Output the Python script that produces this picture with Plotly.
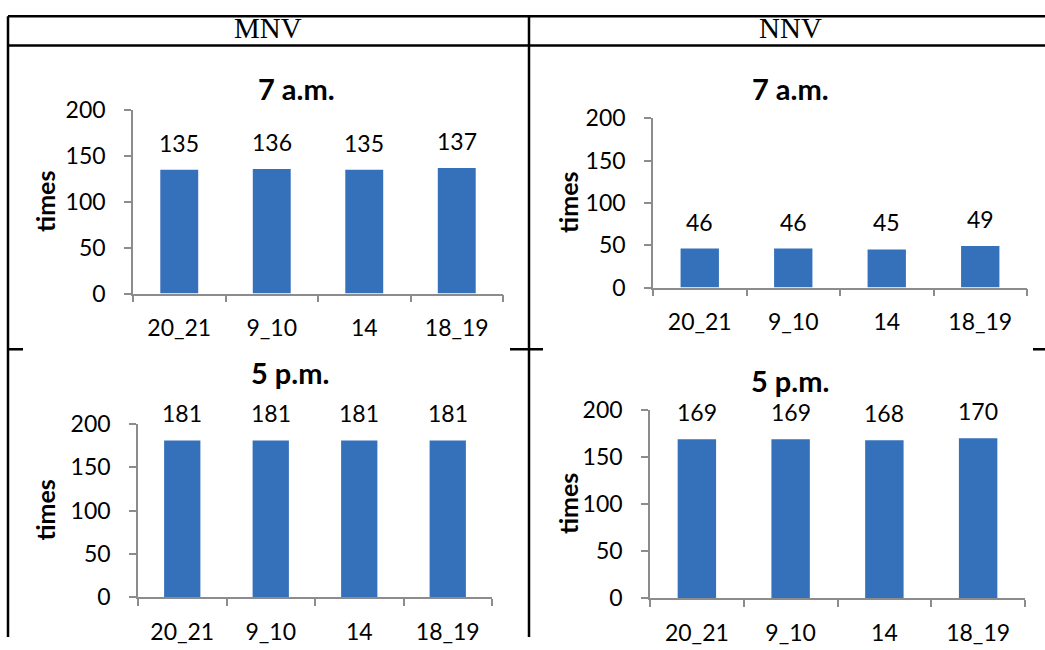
import plotly.graph_objects as go

W, H = 1045, 650

categories = ["20_21", "9_10", "14", "18_19"]
mnv_7am = [135, 136, 135, 137]
nnv_7am = [46, 46, 45, 49]
mnv_5pm = [181, 181, 181, 181]
nnv_5pm = [169, 169, 168, 170]
y_ticks = [0, 50, 100, 150, 200]
column_headers = ["MNV", "NNV"]
panel_titles = ["7 a.m.", "7 a.m.", "5 p.m.", "5 p.m."]
y_title = "times"

BAR_COLOR = "#3570BA"
AXIS_COLOR = "#8C8C8C"
FONT = "Lato"
TICK_SIZE = 23

# the photographed page shows the figure slightly compressed vertically;
# map target pixel rows to figure rows
V_SCALE, V_OFF = 0.961, 13.3

def px(x):
    return x / W

def py(y):
    yd = (y - V_OFF) / V_SCALE
    yd = min(max(yd, 0.0), H)
    return 1 - yd / H

panels = [
    dict(data=mnv_7am, x0=133, x1=503, yb=293, yt=109, title=panel_titles[0], tx=296, ty=87, lx=45),
    dict(data=nnv_7am, x0=653, x1=1027, yb=287, yt=117, title=panel_titles[1], tx=790, ty=87, lx=568),
    dict(data=mnv_5pm, x0=138, x1=492, yb=598, yt=424, title=panel_titles[2], tx=290, ty=372, lx=45),
    dict(data=nnv_5pm, x0=650, x1=1025, yb=599, yt=410, title=panel_titles[3], tx=790, ty=380, lx=568),
]

fig = go.Figure()
annotations = []
layout_axes = {}

for i, p in enumerate(panels, start=1):
    xa = "x" if i == 1 else f"x{i}"
    ya = "y" if i == 1 else f"y{i}"
    fig.add_trace(go.Bar(
        x=categories, y=p["data"], xaxis=xa, yaxis=ya,
        marker=dict(color=BAR_COLOR, line=dict(width=0)),
        width=0.41, showlegend=False, hoverinfo="skip",
    ))
    xkey = "xaxis" if i == 1 else f"xaxis{i}"
    ykey = "yaxis" if i == 1 else f"yaxis{i}"
    layout_axes[xkey] = dict(
        domain=[px(p["x0"]), px(p["x1"])], anchor=ya,
        type="category", range=[-0.5, 3.5],
        showline=True, linecolor=AXIS_COLOR, linewidth=1.5,
        ticks="outside", tickson="boundaries", ticklen=7, tickcolor=AXIS_COLOR, tickwidth=1.5,
        tickfont=dict(family=FONT, size=TICK_SIZE, color="black"),
        ticklabelstandoff=13, showgrid=False, zeroline=False,
    )
    layout_axes[ykey] = dict(
        domain=[py(p["yb"]), py(p["yt"])], anchor=xa,
        range=[0, 200], tickvals=y_ticks,
        showline=True, linecolor=AXIS_COLOR, linewidth=1.5,
        ticks="outside", ticklen=7, tickcolor=AXIS_COLOR, tickwidth=1.5,
        tickfont=dict(family=FONT, size=TICK_SIZE, color="black"),
        ticklabelstandoff=14, showgrid=False, zeroline=False,
    )
    for idx, v in enumerate(p["data"]):
        annotations.append(dict(
            x=idx, y=v, xref=xa, yref=ya, text=str(v), showarrow=False,
            xanchor="center", yanchor="middle",
            yshift=27, font=dict(family=FONT, size=TICK_SIZE, color="black"),
        ))
    annotations.append(dict(
        x=px(p["tx"]), y=py(p["ty"]), xref="paper", yref="paper",
        xanchor="center", yanchor="middle",
        text=f"<b>{p['title']}</b>", showarrow=False,
        font=dict(family=FONT, size=29, color="black"),
    ))
    annotations.append(dict(
        x=px(p["lx"]), y=(py(p["yb"]) + py(p["yt"])) / 2, xref="paper", yref="paper",
        xanchor="center", yanchor="middle",
        text=f"<b>{y_title}</b>", showarrow=False, textangle=-90,
        font=dict(family=FONT, size=25, color="black"),
    ))

# column headers
for hx, label in zip([268, 790], column_headers):
    annotations.append(dict(
        x=px(hx), y=py(26), xref="paper", yref="paper", text=label, showarrow=False,
        xanchor="center", yanchor="middle",
        font=dict(family="Liberation Serif", size=29, color="black"),
    ))

# table lines
lw = 2.5
shapes = []
def seg(x0, y0, x1, y1):
    shapes.append(dict(type="line", xref="paper", yref="paper",
                       x0=px(x0), y0=py(y0), x1=px(x1), y1=py(y1),
                       line=dict(color="black", width=lw)))
seg(8, 14.5, 1045, 14.5)
seg(8, 44, 1045, 44)
seg(8, 14.5, 8, 700)
seg(529, 14.5, 529, 700)
seg(8, 349, 23, 349)
seg(510, 349, 543, 349)
seg(1033, 349, 1045, 349)

fig.update_layout(
    width=W, height=H, margin=dict(l=0, r=0, t=0, b=0),
    paper_bgcolor="white", plot_bgcolor="white",
    annotations=annotations, shapes=shapes, bargap=0.5,
    **layout_axes,
)

fig.write_html(
    "out.html",
    config={"displayModeBar": False},
    post_script="document.body.style.margin='0';document.body.style.overflow='hidden';",
)
